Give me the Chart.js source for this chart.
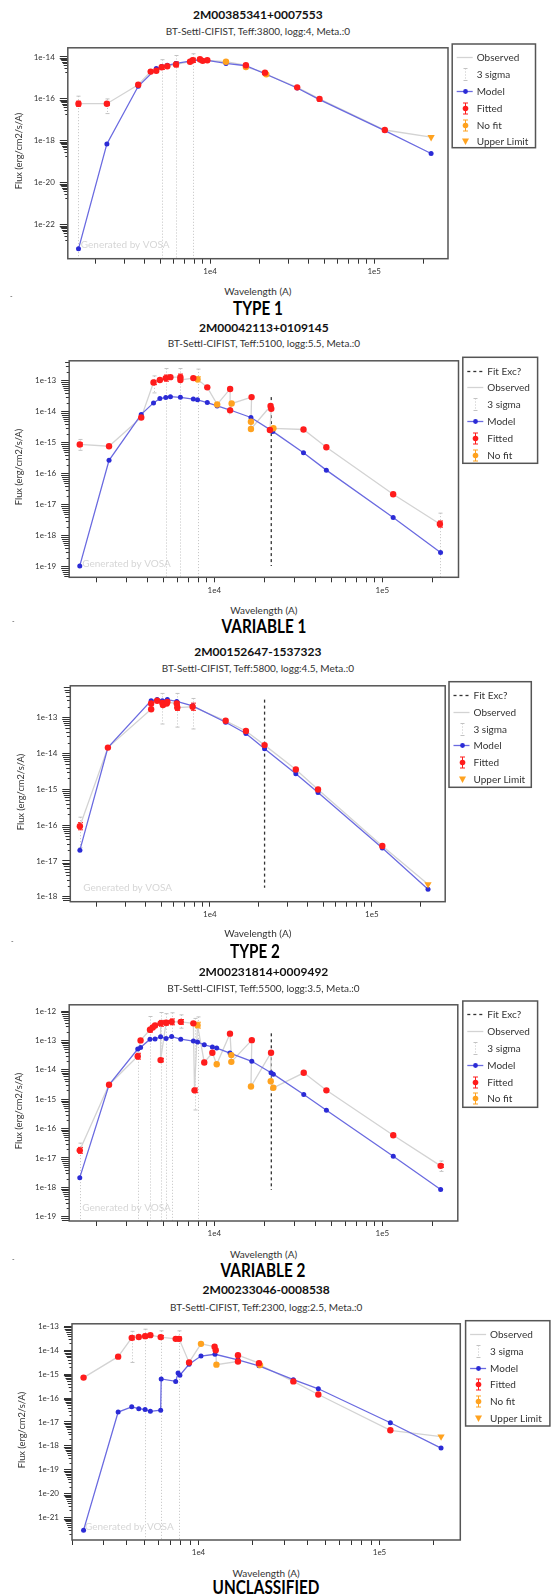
<!DOCTYPE html>
<html>
<head>
<meta charset="utf-8">
<script src="https://cdn.jsdelivr.net/npm/chart.js@4.4.1/dist/chart.umd.min.js"></script>
<style>
  body { margin: 0; background: #fff; }
  #page { position: relative; width: 551px; height: 1596px; overflow: hidden; font-family: Lato, "Open Sans", sans-serif; color: #222; }
  #page canvas { position: absolute; left: 0; }
  .lbl { position: absolute; white-space: nowrap; transform: translate(-50%, -50%); }
  .obj { font-weight: bold; font-size: 12px; color: #111; }
  .sub { font-size: 10px; color: #333; }
  .axt { font-size: 10px; color: #333; }
  .yt { font-size: 9.3px; color: #333; transform: translate(-50%, -50%) rotate(-90deg); }
  .cls { font-weight: bold; font-size: 18px; color: #000; transform: translate(-50%, -50%) scaleX(0.85); }
  .mk { position: absolute; font-size: 7px; color: #444; }
</style>
</head>
<body>
<div id="page">
  <div class="lbl obj" style="left:257.9px;top:14px">2M00385341+0007553</div>
  <div class="lbl sub" style="left:257.9px;top:31px">BT-Settl-CIFIST, Teff:3800, logg:4, Meta.:0</div>
  <div class="lbl yt" style="left:18.3px;top:151.4px">Flux (erg/cm2/s/A)</div>
  <div class="lbl axt" style="left:257.9px;top:291px">Wavelength (A)</div>
  <div class="mk" style="left:10px;top:292px">-</div>
  <div class="lbl cls" style="left:258.3px;top:308px">TYPE 1</div>

  <div class="lbl obj" style="left:263.9px;top:326.7px">2M00042113+0109145</div>
  <div class="lbl sub" style="left:263.9px;top:343.3px">BT-Settl-CIFIST, Teff:5100, logg:5.5, Meta.:0</div>
  <div class="lbl yt" style="left:18.3px;top:467.3px">Flux (erg/cm2/s/A)</div>
  <div class="lbl axt" style="left:263.9px;top:610px">Wavelength (A)</div>
  <div class="mk" style="left:12px;top:617px">-</div>
  <div class="lbl cls" style="left:263.5px;top:626px">VARIABLE 1</div>

  <div class="lbl obj" style="left:257.8px;top:651px">2M00152647-1537323</div>
  <div class="lbl sub" style="left:257.8px;top:668.3px">BT-Settl-CIFIST, Teff:5800, logg:4.5, Meta.:0</div>
  <div class="lbl yt" style="left:20.4px;top:791.9px">Flux (erg/cm2/s/A)</div>
  <div class="lbl axt" style="left:257.8px;top:933.3px">Wavelength (A)</div>
  <div class="mk" style="left:11px;top:937px">-</div>
  <div class="lbl cls" style="left:255px;top:950.7px">TYPE 2</div>

  <div class="lbl obj" style="left:263.5px;top:970.7px">2M00231814+0009492</div>
  <div class="lbl sub" style="left:263.5px;top:988.3px">BT-Settl-CIFIST, Teff:5500, logg:3.5, Meta.:0</div>
  <div class="lbl yt" style="left:18.3px;top:1111px">Flux (erg/cm2/s/A)</div>
  <div class="lbl axt" style="left:263.5px;top:1254px">Wavelength (A)</div>
  <div class="mk" style="left:12px;top:1255px">-</div>
  <div class="lbl cls" style="left:262.8px;top:1270px">VARIABLE 2</div>

  <div class="lbl obj" style="left:266.2px;top:1289.3px">2M00233046-0008538</div>
  <div class="lbl sub" style="left:266.2px;top:1306.7px">BT-Settl-CIFIST, Teff:2300, logg:2.5, Meta.:0</div>
  <div class="lbl yt" style="left:21px;top:1430.3px">Flux (erg/cm2/s/A)</div>
  <div class="lbl axt" style="left:266.2px;top:1572.7px">Wavelength (A)</div>
  <div class="lbl cls" style="left:265.6px;top:1587.3px">UNCLASSIFIED</div>
</div>
<script>
// ---- 2M00385341+0007553 (TYPE 1) ----
// F = fitted, N = no fit, U = upper limit
const wave1 = [1578, 2350, 3648, 4345, 4700, 5070, 5485, 6200, 7550, 7840, 8675, 9010, 9620, 12500, 16530, 16530, 21600, 22000, 33950, 46450, 116100, 222300];
const flux1 = [5.9e-17, 5.9e-17, 4.7e-16, 2.0e-15, 2.2e-15, 3.2e-15, 3.6e-15, 4.4e-15, 5.9e-15, 6.9e-15, 7.8e-15, 6.5e-15, 6.9e-15, 5.9e-15, 4.0e-15, 3.3e-15, 1.78e-15, 1.48e-15, 3.55e-16, 1.0e-16, 3.3e-18, 1.5e-18];
const kind1 = "FFFFFFFFFFFFFNFNFNFFFU";
const err1 = [0.12, 0.07, 0, 0, 0.07, 0.1, 0, 0.12, 0, 0.1, 0, 0, 0, 0, 0, 0, 0, 0, 0, 0, 0, 0]; // dex
const modelWave1 = [1578, 2350, 3648, 4700, 5070, 5485, 6200, 7550, 7840, 8675, 9620, 12500, 16530, 21600, 33950, 46450, 116100, 222300];
const modelFlux1 = [7.2e-24, 7.2e-19, 4.0e-16, 2.8e-15, 3.5e-15, 4.0e-15, 4.9e-15, 6.3e-15, 6.8e-15, 7.1e-15, 6.9e-15, 4.9e-15, 3.8e-15, 1.58e-15, 3.3e-16, 9.3e-17, 3.1e-18, 2.5e-19];
const sigma1 = [[1578, 1.35e-16, null], [2350, 1.0e-16, 2.0e-17], [5070, 7.4e-15, null], [6200, 1.17e-14, null], [7840, 1.41e-14, null]];

// ---- 2M00042113+0109145 (VARIABLE 1) ----
const wave2 = [1581, 2362, 3673, 4345, 4742, 5140, 5480, 6281, 6281, 7500, 7943, 9080, 10400, 12420, 12420, 12680, 16670, 16520, 16520, 21630, 21830, 21430, 22490, 33960, 46450, 116100, 220300];
const flux2 = [8.9e-16, 7.8e-16, 6.6e-15, 8.9e-14, 1.07e-13, 1.23e-13, 1.32e-13, 1.32e-13, 1.07e-13, 1.23e-13, 1.12e-13, 6.2e-14, 1.74e-14, 5.5e-14, 1.12e-14, 1.86e-14, 3.0e-14, 4.8e-15, 2.8e-15, 1.55e-14, 1.26e-14, 2.6e-15, 2.95e-15, 2.7e-15, 7.2e-16, 2.2e-17, 2.4e-18];
const kind2 = "FFFFFFFFFFNFNFFNFNNFFFNFFFF";
const err2 = [0.05, 0, 0, 0.07, 0, 0.1, 0, 0.1, 0, 0, 0.08, 0, 0, 0.04, 0, 0, 0, 0, 0, 0, 0, 0, 0, 0, 0, 0, 0.1];
const modelWave2 = [1581, 2362, 3673, 4345, 4742, 5140, 5480, 6281, 7500, 7943, 9080, 10400, 12420, 16520, 22280, 33960, 46450, 116100, 222300];
const modelFlux2 = [1.07e-19, 2.75e-16, 8.3e-15, 1.95e-14, 2.7e-14, 2.9e-14, 3.1e-14, 2.95e-14, 2.6e-14, 2.45e-14, 2.0e-14, 1.55e-14, 1.15e-14, 6.6e-15, 2.35e-15, 4.8e-16, 1.32e-16, 3.9e-18, 2.9e-19];
const sigma2 = [[1581, 1.29e-15, 5.75e-16], [4345, 1.45e-13, 4.1e-14], [5140, 2.5e-13, null], [6281, 2.5e-13, null], [7943, 2.4e-13, null], [220300, 5.4e-18, null]];
const fitExc2 = [21830, 3.0e-14, 1.07e-19];

// ---- 2M00152647-1537323 (TYPE 2) ----
const wave3 = [1578, 2350, 4345, 4345, 4732, 5093, 5140, 5420, 5470, 6252, 6300, 7834, 12530, 16710, 21780, 33960, 46560, 116100, 222300];
const flux3 = [9.3e-17, 1.45e-14, 1.7e-13, 2.45e-13, 2.95e-13, 2.57e-13, 2.24e-13, 2.45e-13, 2.7e-13, 2.45e-13, 1.9e-13, 2.0e-13, 8.1e-14, 4.2e-14, 1.7e-14, 3.55e-15, 9.8e-16, 2.6e-17, 2.24e-18];
const kind3 = "FFFFFFFFFFFFFFFFFFU";
const err3 = [0.1, 0, 0, 0, 0, 0.08, 0, 0, 0, 0.06, 0.08, 0.1, 0, 0, 0, 0, 0, 0, 0];
const modelWave3 = [1578, 2350, 4345, 4732, 5093, 5470, 6252, 7834, 12530, 16710, 21780, 33960, 46560, 116100, 222300];
const modelFlux3 = [2.0e-17, 1.45e-14, 2.95e-13, 3.16e-13, 2.95e-13, 3.16e-13, 2.82e-13, 2.1e-13, 7.4e-14, 3.6e-14, 1.35e-14, 2.7e-15, 8.1e-16, 2.3e-17, 1.62e-18];
const sigma3 = [[1578, 1.66e-16, 2.34e-17], [5093, 4.7e-13, 6.6e-14], [6252, 4.7e-13, 5.4e-14], [7834, 3.4e-13, 4.8e-14]];
const fitExc3 = [21780, 3.16e-13, 1.78e-18];

// ---- 2M00231814+0009492 (VARIABLE 2) ----
const wave4 = [1581, 2362, 3500, 3639, 4140, 4295, 4436, 4786, 4786, 5160, 5570, 6310, 7500, 7620, 7943, 8710, 9730, 10330, 12390, 12620, 12620, 16710, 16520, 21750, 21660, 22440, 34050, 46450, 116100, 222300];
const flux4 = [1.82e-17, 3.1e-15, 2.9e-14, 1.0e-13, 2.3e-13, 2.75e-13, 3.2e-13, 3.8e-13, 2.14e-14, 3.98e-13, 4.27e-13, 4.27e-13, 3.8e-13, 2.0e-15, 3.3e-13, 1.78e-14, 3.8e-14, 1.55e-14, 1.7e-13, 3.16e-14, 1.86e-14, 1.02e-13, 2.7e-15, 3.8e-14, 4.07e-15, 2.45e-15, 7.9e-15, 2.0e-15, 5.9e-17, 5.4e-18];
const kind4 = "FFFFFFFFFFFFFFNFFNFNNFNFNNFFFF";
const err4 = [0.1, 0, 0.1, 0, 0.08, 0, 0, 0.1, 0.06, 0.08, 0.1, 0.08, 0, 0.08, 0.1, 0.07, 0, 0, 0, 0, 0, 0, 0, 0, 0, 0, 0, 0, 0, 0.05];
const modelWave4 = [1581, 2362, 3500, 3639, 4140, 4436, 4786, 5160, 5570, 6310, 7500, 7943, 8710, 9730, 10330, 12390, 16710, 21750, 22440, 34050, 46450, 116100, 222300];
const modelFlux4 = [2.14e-18, 3.1e-15, 5.1e-14, 5.75e-14, 1.1e-13, 1.12e-13, 1.32e-13, 1.17e-13, 1.35e-13, 1.1e-13, 9.5e-14, 8.9e-14, 7.1e-14, 6.0e-14, 5.5e-14, 3.7e-14, 1.95e-14, 7.9e-15, 7.1e-15, 1.45e-15, 4.2e-16, 1.15e-17, 8.5e-19];
const sigma4 = [[1581, 3.2e-17, null], [3500, 4.8e-14, null], [4140, 6.5e-13, null], [4786, 8.9e-13, null], [5160, 8.1e-13, null], [5570, 8.7e-13, null], [6310, 7.4e-13, 2.6e-13], [7620, 5.6e-13, 4.3e-16], [7943, 6.3e-13, null], [222300, 7.9e-18, 3.5e-18]];
const fitExc4 = [21830, 1.74e-13, 8.1e-19];

// ---- 2M00233046-0008538 (UNCLASSIFIED) ----
const wave5 = [2317, 3597, 4276, 4677, 5070, 5420, 6180, 7480, 7810, 8870, 10320, 12270, 12450, 12560, 16520, 16520, 21580, 21880, 33420, 45920, 114800, 218800];
const flux5 = [7.2e-16, 5.4e-15, 3.3e-14, 3.6e-14, 3.9e-14, 4.3e-14, 3.55e-14, 3.0e-14, 3.0e-14, 3.1e-15, 1.86e-14, 1.41e-14, 1.0e-14, 2.5e-15, 3.4e-15, 6.2e-15, 2.9e-15, 2.4e-15, 5.0e-16, 1.41e-16, 4.5e-18, 2.45e-18];
const kind5 = "FFFFFFFFFFNFFNFFFNFFFU";
const err5 = [0, 0, 0.08, 0, 0.08, 0, 0.07, 0.07, 0.08, 0, 0, 0, 0, 0, 0, 0, 0, 0, 0, 0, 0, 0];
const modelWave5 = [2317, 3597, 4276, 4677, 5070, 5420, 6180, 6220, 7480, 7710, 7890, 8870, 10320, 12330, 16520, 21580, 33420, 45920, 114800, 218800];
const modelFlux5 = [3.0e-22, 2.6e-17, 4.3e-17, 3.6e-17, 3.3e-17, 2.8e-17, 3.1e-17, 6.3e-16, 5.0e-16, 1.12e-15, 9.1e-16, 2.6e-15, 5.75e-15, 6.8e-15, 4.0e-15, 2.24e-15, 5.9e-16, 2.45e-16, 9.3e-18, 8.1e-19];
const sigma5 = [[4276, 6.2e-14, 3.1e-15], [5070, 7.6e-14, null], [6180, 6.5e-14, null], [7810, 6.5e-14, null]];

const legendA = ["obs", "sig", "model", "fitted", "nofit", "upper"];
const legendB = ["fit", "obs", "sig", "model", "fitted", "nofit"];
const legendC = ["fit", "obs", "sig", "model", "fitted", "upper"];

const RED = "#ff1c1c", ORANGE = "#ffa21f", BLUE_DOT = "#2b2bd6", BLUE_LINE = "#6a6ae0", GREY = "#d3d3d3";
const LABELS = { fit: "Fit Exc?", obs: "Observed", sig: "3 sigma", model: "Model", fitted: "Fitted", nofit: "No fit", upper: "Upper Limit" };

// plot box [left, top, right, bottom] and legend box in page pixels
const panels = [
  { wave: wave1, flux: flux1, kind: kind1, err: err1, mWave: modelWave1, mFlux: modelFlux1, sigma: sigma1, fitExc: null, legend: legendA,
    box: [67.8, 44, 448.0, 258.7], leg: [452.2, 44, 535.5, 147.7], xr: [1358, 281800], yr: [2.45e-24, 2.72e-14], yStep: 2 },
  { wave: wave2, flux: flux2, kind: kind2, err: err2, mWave: modelWave2, mFlux: modelFlux2, sigma: sigma2, fitExc: fitExc2, legend: legendB,
    box: [69.2, 357.3, 458.5, 577.3], leg: [462.8, 357.3, 537.6, 463.3], xr: [1368, 284300], yr: [4.6e-20, 4.45e-13], yStep: 1 },
  { wave: wave3, flux: flux3, kind: kind3, err: err3, mWave: modelWave3, mFlux: modelFlux3, sigma: sigma3, fitExc: fitExc3, legend: legendC,
    box: [70.3, 682, 445.2, 901.7], leg: [449, 681.7, 531.3, 787.3], xr: [1377, 283800], yr: [7.3e-19, 7.67e-13], yStep: 1 },
  { wave: wave4, flux: flux4, kind: kind4, err: err4, mWave: modelWave4, mFlux: modelFlux4, sigma: sigma4, fitExc: fitExc4, legend: legendB,
    box: [69.2, 1001, 457.8, 1221], leg: [462.8, 1001, 537.6, 1107.3], xr: [1368, 281200], yr: [7.18e-20, 1.626e-12], yStep: 1 },
  { wave: wave5, flux: flux5, kind: kind5, err: err5, mWave: modelWave5, mFlux: modelFlux5, sigma: sigma5, fitExc: null, legend: legendA,
    box: [72, 1320.7, 460.3, 1540], leg: [465.6, 1320.7, 549.9, 1426], xr: [2000, 279500], yr: [1.16e-22, 1.28e-13], yStep: 1 },
];

function xTicks(min, max) {
  const out = [];
  for (let n = Math.floor(Math.log10(min)); n <= Math.ceil(Math.log10(max)); n++) {
    for (let k = 1; k <= 9; k++) {
      const v = k * Math.pow(10, n);
      if (v >= min && v <= max) out.push(v);
    }
  }
  return out;
}

function yTicks(min, max, step) {
  const out = [];
  for (let n = Math.ceil(Math.log10(min)); n <= Math.floor(Math.log10(max)); n++) {
    if (((n % step) + step) % step === 0) out.push(Math.pow(10, n));
  }
  return out;
}

function line(ctx, x0, y0, x1, y1) {
  ctx.beginPath();
  ctx.moveTo(x0, y0);
  ctx.lineTo(x1, y1);
  ctx.stroke();
}

function bar(ctx, px, y1, y2, color) {
  ctx.strokeStyle = color;
  ctx.lineWidth = 1;
  line(ctx, px, y1, px, y2);
  line(ctx, px - 2.5, y1, px + 2.5, y1);
  line(ctx, px - 2.5, y2, px + 2.5, y2);
}

function decor(p) {
  return {
    id: "decor",
    beforeDatasetsDraw(chart) {
      const { ctx, chartArea: a, scales: { x, y } } = chart;
      ctx.save();
      // watermark
      ctx.font = "10px Lato, sans-serif";
      ctx.fillStyle = "#d6d6d6";
      ctx.textBaseline = "middle";
      ctx.fillText("Generated by VOSA", a.left + 13, a.bottom - 13.5);
      // 3 sigma bars
      ctx.strokeStyle = "#c2c2c2";
      ctx.lineWidth = 1;
      p.sigma.forEach(([w, hi, lo]) => {
        const px = Math.round(x.getPixelForValue(w)) + 0.5;
        const y1 = y.getPixelForValue(hi);
        const y2 = lo ? y.getPixelForValue(lo) : a.bottom;
        ctx.setLineDash([1, 2]);
        line(ctx, px, y1, px, y2);
        ctx.setLineDash([]);
        line(ctx, px - 2, y1, px + 2, y1);
        if (lo) line(ctx, px - 2, y2, px + 2, y2);
      });
      // error bars of the photometry
      p.wave.forEach((w, i) => {
        const e = p.err[i];
        if (!e) return;
        const px = Math.round(x.getPixelForValue(w)) + 0.5;
        const f = p.flux[i];
        bar(ctx, px, y.getPixelForValue(f * Math.pow(10, e)), y.getPixelForValue(f / Math.pow(10, e)), p.kind[i] === "F" ? RED : ORANGE);
      });
      ctx.restore();
    },
    afterDraw(chart) {
      const { ctx, chartArea: a, scales: { y } } = chart;
      ctx.save();
      // minor log ticks on y, wedge shaped
      ctx.strokeStyle = "#333";
      ctx.lineWidth = 1;
      const lo = Math.floor(Math.log10(y.min)), hi = Math.ceil(Math.log10(y.max));
      for (let n = lo; n <= hi; n++) {
        if (((n % p.yStep) + p.yStep) % p.yStep) continue;
        for (let k = 2; k <= 9; k++) {
          const v = k * Math.pow(10, n - 1);
          if (v < y.min || v > y.max) continue;
          const py = Math.round(y.getPixelForValue(v)) + 0.5;
          line(ctx, a.left - (2.5 + (k - 2) * 0.8), py, a.left, py);
        }
      }
      // frame
      ctx.strokeStyle = "#555";
      ctx.lineWidth = 1.5;
      ctx.strokeRect(a.left, a.top, a.right - a.left, a.bottom - a.top);
      // legend
      const [l0, t0, l1, t1] = p.leg;
      const top = t0 - p.cTop;
      ctx.strokeRect(l0, top, l1 - l0, t1 - t0);
      ctx.font = "10px Lato, sans-serif";
      ctx.textBaseline = "middle";
      p.legend.forEach((key, i) => {
        const cy = Math.round(top + 13.3 + i * 16.8) + 0.5;
        const x0 = l0 + 4.5, x1 = l0 + 20.5, cx = Math.round((x0 + x1) / 2) + 0.5;
        ctx.setLineDash([]);
        if (key === "fit") {
          ctx.strokeStyle = "#333"; ctx.lineWidth = 1.3; ctx.setLineDash([3, 3]);
          line(ctx, x0, cy, x1, cy);
          ctx.setLineDash([]);
        } else if (key === "obs") {
          ctx.strokeStyle = GREY; ctx.lineWidth = 1.3;
          line(ctx, x0, cy, x1, cy);
        } else if (key === "sig") {
          ctx.strokeStyle = "#c2c2c2"; ctx.lineWidth = 1;
          ctx.setLineDash([1, 2]);
          line(ctx, cx, cy - 6, cx, cy + 6);
          ctx.setLineDash([]);
          line(ctx, cx - 2, cy - 6, cx + 2, cy - 6);
          line(ctx, cx - 2, cy + 6, cx + 2, cy + 6);
        } else if (key === "model") {
          ctx.strokeStyle = BLUE_LINE; ctx.lineWidth = 1.3;
          line(ctx, x0, cy, x1, cy);
          ctx.fillStyle = BLUE_DOT;
          ctx.beginPath(); ctx.arc(cx, cy, 2.4, 0, Math.PI * 2); ctx.fill();
        } else if (key === "fitted" || key === "nofit") {
          const c = key === "fitted" ? RED : ORANGE;
          bar(ctx, cx, cy - 5.5, cy + 5.5, c);
          ctx.fillStyle = c;
          ctx.beginPath(); ctx.arc(cx, cy, 2.8, 0, Math.PI * 2); ctx.fill();
        } else if (key === "upper") {
          ctx.fillStyle = ORANGE;
          ctx.beginPath();
          ctx.moveTo(cx - 3.5, cy - 3); ctx.lineTo(cx + 3.5, cy - 3); ctx.lineTo(cx, cy + 3.5);
          ctx.closePath(); ctx.fill();
        }
        ctx.fillStyle = "#333";
        ctx.fillText(LABELS[key], l0 + 24.5, cy);
      });
      ctx.restore();
    },
  };
}

function makeConfig(p, cH) {
  const obs = p.wave.map((w, i) => ({ x: w, y: p.flux[i] }));
  const pick = c => obs.filter((o, i) => p.kind[i] === c);
  const datasets = [
    { data: pick("F"), pointRadius: 3.2, pointBackgroundColor: RED, pointBorderWidth: 0, order: 0 },
    { data: pick("N"), pointRadius: 3.2, pointBackgroundColor: ORANGE, pointBorderWidth: 0, order: 1 },
    { data: pick("U"), pointStyle: "triangle", rotation: 180, pointRadius: 4.2, pointBackgroundColor: ORANGE, pointBorderWidth: 0, order: 1 },
    { data: p.mWave.map((w, i) => ({ x: w, y: p.mFlux[i] })), showLine: true, borderColor: BLUE_LINE, borderWidth: 1.3,
      pointRadius: 2.5, pointBackgroundColor: BLUE_DOT, pointBorderWidth: 0, order: 2 },
    { data: obs, showLine: true, borderColor: GREY, borderWidth: 1.3, pointRadius: 0, order: 3 },
  ];
  if (p.fitExc) {
    datasets.push({ data: [{ x: p.fitExc[0], y: p.fitExc[1] }, { x: p.fitExc[0], y: p.fitExc[2] }], showLine: true,
      borderColor: "#333", borderDash: [3, 3], borderWidth: 1.3, pointRadius: 0, order: 4 });
  }
  const axisFont = { family: "Lato, sans-serif", size: 8 };
  return {
    type: "scatter",
    data: { datasets },
    options: {
      responsive: false,
      animation: false,
      devicePixelRatio: 1,
      events: [],
      layout: { autoPadding: false, padding: { left: 0, top: p.box[1] - p.cTop, right: 551 - p.box[2], bottom: 0 } },
      plugins: { legend: { display: false }, tooltip: { enabled: false } },
      scales: {
        x: {
          type: "logarithmic", min: p.xr[0], max: p.xr[1],
          afterBuildTicks: s => { s.ticks = xTicks(s.min, s.max).map(v => ({ value: v })); },
          afterFit: s => { s.height = cH - (p.box[3] - p.cTop); },
          ticks: { autoSkip: false, maxRotation: 0, minRotation: 0, padding: 3, color: "#333", font: axisFont,
            callback: v => (v === 1e4 ? "1e4" : v === 1e5 ? "1e5" : "") },
          grid: { drawOnChartArea: false, drawTicks: true, tickLength: 5, tickColor: "#333" },
          border: { display: false },
        },
        y: {
          type: "logarithmic", min: p.yr[0], max: p.yr[1],
          afterBuildTicks: s => { s.ticks = yTicks(s.min, s.max, p.yStep).map(v => ({ value: v })); },
          afterFit: s => { s.width = p.box[0]; },
          ticks: { padding: 5, color: "#333", font: axisFont, callback: v => "1e" + Math.round(Math.log10(v)) },
          grid: { drawOnChartArea: false, drawTicks: true, tickLength: 8, tickColor: "#333" },
          border: { display: false },
        },
      },
    },
    plugins: [decor(p)],
  };
}

const page = document.getElementById("page");
panels.forEach(p => {
  p.cTop = Math.floor(p.box[1]) - 6;
  const cH = Math.ceil(p.box[3] - p.cTop) + 26;
  const cv = document.createElement("canvas");
  cv.width = 551;
  cv.height = cH;
  cv.style.top = p.cTop + "px";
  page.insertBefore(cv, page.firstChild);
  new Chart(cv, makeConfig(p, cH));
});
</script>
</body>
</html>
